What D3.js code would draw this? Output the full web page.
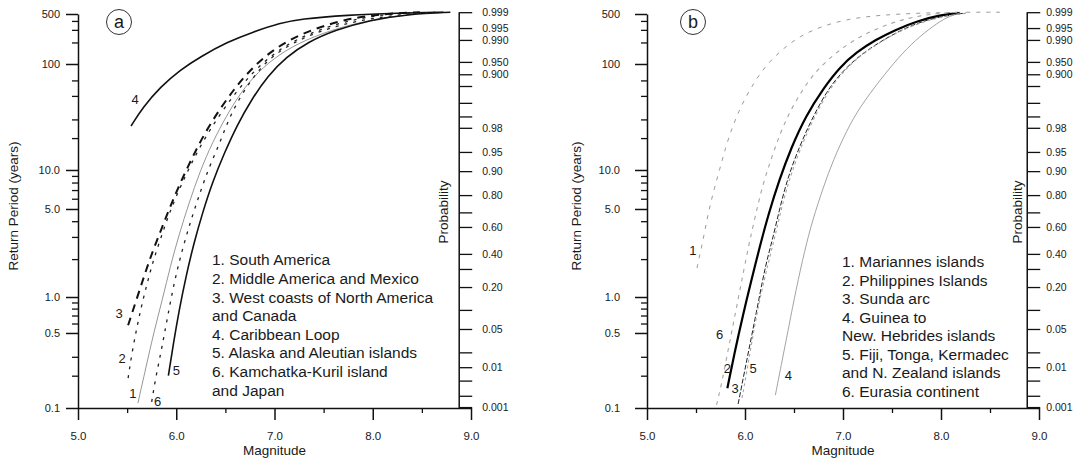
<!DOCTYPE html>
<html>
<head>
<meta charset="utf-8">
<script src="https://cdn.jsdelivr.net/npm/d3@7"></script>
<style>
  body { margin: 0; background: #fff; }
  svg text { font-family: "Liberation Sans", Arial, Helvetica, sans-serif; fill: #1a1a1a; }
</style>
</head>
<body>
<div id="chart"></div>
<script>
// ---- axes values ----
const returnTicks = [500, 100, 10, 5, 1, 0.5, 0.1];
const returnTickLabels = ["500", "100", "10.0", "5.0", "1.0", "0.5", "0.1"];
const returnMinorTicks = [400, 300, 200, 70, 50, 30, 20, 9, 8, 7, 6, 4, 3, 2, 0.9, 0.8, 0.7, 0.6, 0.3, 0.2];
const magTicks = [5, 6, 7, 8, 9];
const magMinorTicks = [5.5, 6.5, 7.5, 8.5];
// probability labels on the right, given as the return period they sit on
const probLabels = ["0.999", "0.995", "0.990", "0.950", "0.900", "0.98", "0.95", "0.90", "0.80", "0.60", "0.40", "0.20", "0.05", "0.01", "0.001"];
const probAtReturn = [530, 318, 217, 107, 80, 25, 14.8, 9.8, 6.4, 3.6, 2.2, 1.2, 0.54, 0.24, 0.102];
const probMinorAtReturn = [62, 43, 32, 4.7, 1.67, 0.78, 0.33, 0.18, 0.13];

// ---- panel a : [magnitude, return period (years)] ----
const aSouthAmerica = [[5.61,0.111],[5.69,0.236],[5.77,0.5],[5.86,0.96],[5.94,1.76],[6.03,3.16],[6.13,5.56],[6.24,9.7],[6.37,18.4],[6.51,32.3],[6.66,54.5],[6.83,84],[7.05,138],[7.31,217],[7.67,329],[8.07,440],[8.53,516]];
const aMiddleAmerica = [[5.51,0.19],[5.55,0.33],[5.60,0.56],[5.65,0.87],[5.71,1.34],[5.77,2.0],[5.85,3.05],[5.93,4.65],[6.03,7.1],[6.15,11.4],[6.29,20],[6.46,35.2],[6.64,59.4],[6.84,95.7],[7.08,173],[7.36,271],[7.72,399],[8.13,500],[8.53,530]];
const aWestCoasts = [[5.51,0.58],[5.60,0.98],[5.68,1.52],[5.76,2.32],[5.85,3.47],[5.94,5.27],[6.04,7.9],[6.16,13.0],[6.29,22.3],[6.45,38.4],[6.62,63.4],[6.80,97.8],[7.01,167],[7.26,262],[7.67,412],[8.07,500],[8.48,530]];
const aCaribbean = [[5.54,26],[5.66,39],[5.84,61],[6.04,88],[6.24,125],[6.52,203],[6.78,280],[7.06,374],[7.26,426],[7.74,484],[8.25,516],[8.72,530]];
const aAlaska = [[5.92,0.20],[5.97,0.395],[6.03,0.78],[6.10,1.47],[6.18,2.69],[6.27,4.73],[6.37,8.1],[6.49,14.5],[6.62,26.6],[6.77,46.8],[6.93,77],[7.12,125],[7.34,203],[7.62,299],[7.97,412],[8.38,500],[8.79,530]];
const aKamchatka = [[5.75,0.114],[5.79,0.19],[5.85,0.35],[5.91,0.67],[5.98,1.32],[6.06,2.36],[6.15,4.09],[6.24,6.6],[6.33,10.4],[6.44,17.6],[6.53,29.7],[6.65,48.9],[6.79,77],[6.95,121],[7.18,197],[7.46,289],[7.82,399],[8.23,484],[8.63,530]];

// ---- panel b ----
const bMariannes = [[5.51,1.70],[5.55,2.36],[5.59,3.34],[5.63,4.82],[5.68,6.9],[5.74,10],[5.80,16.1],[5.87,25.4],[5.96,40.2],[6.07,62],[6.20,94],[6.37,157],[6.56,246],[6.79,340],[7.05,426],[7.38,484],[7.79,516],[8.19,530],[8.60,530]];
const bPhilippines = [[5.82,0.153],[5.90,0.35],[5.98,0.71],[6.06,1.31],[6.15,2.5],[6.24,4.56],[6.35,8.4],[6.47,16.1],[6.62,32.3],[6.80,59],[6.97,94],[7.14,147],[7.33,217],[7.53,299],[7.76,399],[7.99,484],[8.19,516]];
const bSunda = [[5.93,0.109],[6.00,0.23],[6.07,0.48],[6.14,0.94],[6.21,1.8],[6.28,2.84],[6.35,4.9],[6.43,8.4],[6.53,14.5],[6.66,27.7],[6.84,57],[6.99,84],[7.15,125],[7.33,185],[7.48,246],[7.68,340],[7.89,426],[8.09,484],[8.25,516]];
const bGuinea = [[6.31,0.132],[6.38,0.28],[6.45,0.58],[6.52,1.14],[6.61,2.36],[6.69,4.1],[6.80,7.4],[6.90,12.4],[7.04,23.8],[7.17,39],[7.38,71],[7.56,121],[7.74,217],[7.92,340],[8.06,454],[8.19,516]];
const bFiji = [[5.97,0.124],[6.03,0.25],[6.09,0.53],[6.16,1.04],[6.24,1.9],[6.31,3.1],[6.38,5.4],[6.46,8.8],[6.56,15.5],[6.69,29.7],[6.87,60],[7.02,88],[7.17,129],[7.35,190],[7.50,254],[7.70,340],[7.91,426],[8.11,484],[8.28,516]];
const bEurasia = [[5.71,0.107],[5.76,0.167],[5.80,0.257],[5.84,0.395],[5.88,0.594],[5.92,0.87],[5.96,1.27],[6.00,1.83],[6.05,2.84],[6.11,4.56],[6.18,7.66],[6.27,13.0],[6.36,22.3],[6.46,36],[6.58,55.6],[6.70,80.5],[6.85,117],[7.02,179],[7.22,262],[7.46,362],[7.70,454],[7.99,516],[8.19,530]];

const legendA = ["1. South America", "2. Middle America and Mexico", "3. West coasts of North America", "and Canada", "4. Caribbean Loop", "5. Alaska and Aleutian islands", "6. Kamchatka-Kuril island", "and Japan"];
const legendB = ["1. Mariannes islands", "2. Philippines Islands", "3. Sunda arc", "4. Guinea to", "New. Hebrides islands", "5. Fiji, Tonga, Kermadec", "and N. Zealand islands", "6. Eurasia continent"];

const W = 1088, H = 462;
const plotTop = 14, plotBottom = 408;
const ph = plotBottom - plotTop;

const svg = d3.select("#chart").append("svg")
    .attr("width", W).attr("height", H)
    .style("display", "block");

// the return period axis of the original paper is not a pure log scale,
// so it is a piecewise log scale through the labelled ticks
const y = d3.scaleLog()
    .domain(returnTicks)
    .range([0, 0.1269, 0.3959, 0.4949, 0.7183, 0.8096, 1].map(f => plotTop + f * ph));

const panels = [
    {
        tag: "a", left: 78, right: 471, yPad: 6, rPad: 10, yTitleDx: -65, pTitleDx: -16,
        circleDx: 41, legendX: 212, legendY: 260, legendStep: 18.6, legend: legendA,
        series: [
            { data: aSouthAmerica, label: "1", stroke: "#8a8a8a", width: 0.9, dash: null, dx: -5, dy: -10 },
            { data: aMiddleAmerica, label: "2", stroke: "#222", width: 1.3, dash: "3,6", dx: -6, dy: -20 },
            { data: aWestCoasts, label: "3", stroke: "#111", width: 2, dash: "8,6", dx: -9, dy: -12 },
            { data: aCaribbean, label: "4", stroke: "#111", width: 1.6, dash: null, dx: 4, dy: -27 },
            { data: aAlaska, label: "5", stroke: "#111", width: 1.6, dash: null, dx: 8, dy: -5 },
            { data: aKamchatka, label: "6", stroke: "#222", width: 1.3, dash: "3,6", dx: 6, dy: 0 }
        ]
    },
    {
        tag: "b", left: 647, right: 1039, yPad: 15, rPad: 6, yTitleDx: -71, pTitleDx: -10,
        circleDx: 46, legendX: 842, legendY: 262, legendStep: 18.45, legend: legendB,
        series: [
            { data: bMariannes, label: "1", stroke: "#9a9a9a", width: 1, dash: "4,6", dx: -4, dy: -18 },
            { data: bPhilippines, label: "2", stroke: "#000", width: 2.2, dash: null, dx: 0, dy: -20 },
            { data: bSunda, label: "3", stroke: "#222", width: 1, dash: "5,2", dx: -3, dy: -16 },
            { data: bGuinea, label: "4", stroke: "#999", width: 0.9, dash: null, dx: 13, dy: -20 },
            { data: bFiji, label: "5", stroke: "#a5a5a5", width: 1.1, dash: "3,3", dx: 11, dy: -30 },
            { data: bEurasia, label: "6", stroke: "#a5a5a5", width: 1.1, dash: "4,5", dx: 3, dy: -70 }
        ]
    }
];

function styleAxis(g, w) {
    g.selectAll("path, line").attr("stroke", "#111").attr("stroke-width", w);
    g.selectAll("text").attr("fill", "#1a1a1a");
}

panels.forEach(p => {
    const x = d3.scaleLinear().domain([5, 9]).range([p.left, p.right]);
    const g = svg.append("g");
    const rx = x(8.88);

    // left axis
    g.append("g")
        .attr("transform", `translate(${x(5)},0)`)
        .call(d3.axisLeft(y).tickValues(returnTicks)
            .tickFormat((d, i) => returnTickLabels[i])
            .tickSize(12).tickSizeOuter(0).tickPadding(p.yPad))
        .call(a => a.selectAll("text").style("font-size", "11px").attr("font-family", null))
        .call(a => styleAxis(a, 1.5));
    g.append("g")
        .attr("transform", `translate(${x(5)},0)`)
        .call(d3.axisLeft(y).tickValues(returnMinorTicks).tickFormat("").tickSize(6))
        .call(a => a.select(".domain").remove())
        .call(a => styleAxis(a, 1.3));

    // bottom axis
    g.append("g")
        .attr("transform", `translate(0,${y(0.1)})`)
        .call(d3.axisBottom(x).tickValues(magTicks).tickFormat(d3.format(".1f"))
            .tickSize(12).tickSizeOuter(0).tickPadding(12))
        .call(a => a.selectAll("text").style("font-size", "11.5px").attr("font-family", null))
        .call(a => styleAxis(a, 1.5));
    g.append("g")
        .attr("transform", `translate(0,${y(0.1)})`)
        .call(d3.axisBottom(x).tickValues(magMinorTicks).tickFormat("").tickSize(5))
        .call(a => a.select(".domain").remove())
        .call(a => styleAxis(a, 1.3));

    // right probability axis
    g.append("line")
        .attr("x1", rx).attr("x2", rx)
        .attr("y1", y(probAtReturn[0])).attr("y2", y(0.1))
        .attr("stroke", "#111").attr("stroke-width", 1.5);
    g.append("g")
        .attr("transform", `translate(${rx},0)`)
        .call(d3.axisRight(y).tickValues(probAtReturn)
            .tickFormat((d, i) => probLabels[i])
            .tickSize(13).tickPadding(p.rPad))
        .call(a => a.select(".domain").remove())
        .call(a => a.selectAll("text").style("font-size", "10.5px").attr("font-family", null))
        .call(a => styleAxis(a, 1.3));
    g.append("g")
        .attr("transform", `translate(${rx},0)`)
        .call(d3.axisRight(y).tickValues(probMinorAtReturn).tickFormat("").tickSize(13))
        .call(a => a.select(".domain").remove())
        .call(a => styleAxis(a, 1.3));

    // titles
    g.append("text")
        .attr("x", x(7)).attr("y", y(0.1) + 47)
        .attr("text-anchor", "middle")
        .style("font-size", "13.5px")
        .text("Magnitude");
    g.append("text")
        .attr("transform", `translate(${x(5) + p.yTitleDx},${(plotTop + plotBottom) / 2 - 5}) rotate(-90)`)
        .attr("text-anchor", "middle")
        .attr("dy", "0.35em")
        .style("font-size", "13.5px")
        .text("Return Period (years)");
    g.append("text")
        .attr("transform", `translate(${rx + p.pTitleDx},${(plotTop + plotBottom) / 2 + 1}) rotate(-90)`)
        .attr("text-anchor", "middle")
        .attr("dy", "0.35em")
        .style("font-size", "13.5px")
        .text("Probability");

    // circled panel letter
    g.append("circle")
        .attr("cx", x(5) + p.circleDx).attr("cy", 22).attr("r", 12.5)
        .attr("fill", "none").attr("stroke", "#333").attr("stroke-width", 1);
    g.append("text")
        .attr("x", x(5) + p.circleDx).attr("y", 22)
        .attr("dy", "0.33em")
        .attr("text-anchor", "middle")
        .style("font-size", "18px")
        .text(p.tag);

    // curves: a B-spline through the read points keeps them smooth like the drawn originals
    const line = d3.line()
        .x(d => x(d[0]))
        .y(d => y(d[1]))
        .curve(d3.curveBasis);

    p.series.forEach(s => {
        g.append("path")
            .datum(s.data)
            .attr("fill", "none")
            .attr("stroke", s.stroke)
            .attr("stroke-width", s.width)
            .attr("stroke-dasharray", s.dash)
            .attr("d", line);

        const first = s.data[0];
        g.append("text")
            .attr("x", x(first[0]) + s.dx)
            .attr("y", y(first[1]) + s.dy)
            .attr("dy", "0.35em")
            .attr("text-anchor", "middle")
            .style("font-size", "13px")
            .text(s.label);
    });

    // legend
    g.append("g")
        .selectAll("text")
        .data(p.legend)
        .join("text")
        .attr("x", p.legendX)
        .attr("y", (d, i) => p.legendY + i * p.legendStep)
        .attr("dy", "0.35em")
        .style("font-size", "15.5px")
        .text(d => d);
});
</script>
</body>
</html>
